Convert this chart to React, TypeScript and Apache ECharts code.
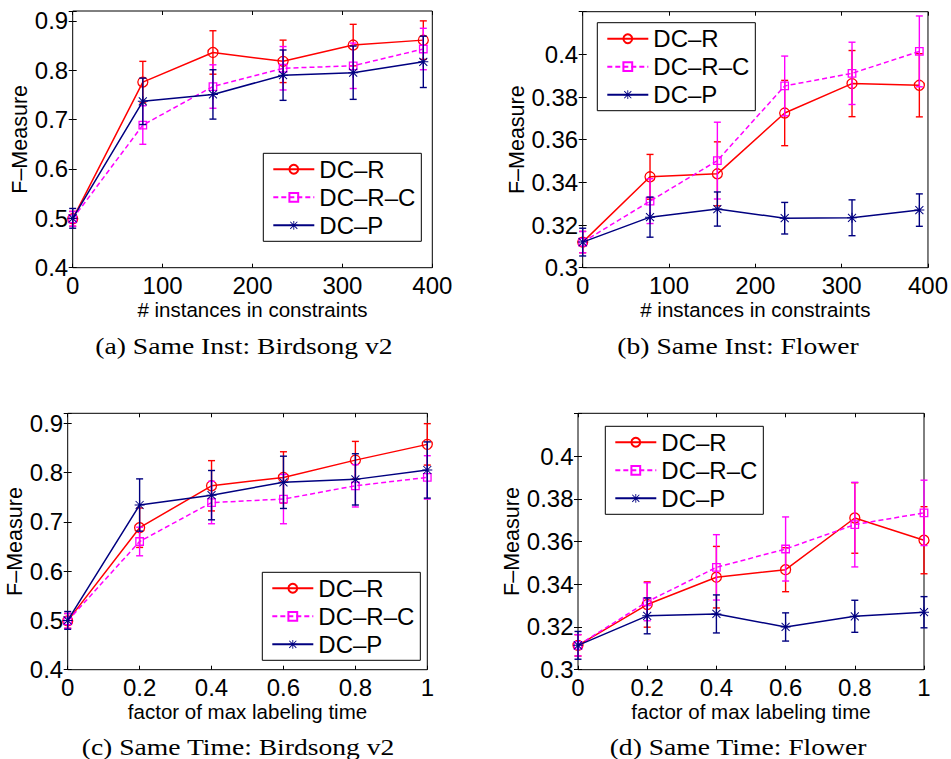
import React, { useEffect, useRef } from 'react';
import * as echarts from 'echarts';

// ---------- data ----------
const instX = [0, 78, 156, 234, 312, 390];
const timeX = [0, 0.2, 0.4, 0.6, 0.8, 1];
const seriesNames = ['DC–R', 'DC–R–C', 'DC–P'];

// (a) Same Inst: Birdsong v2
const aR = [0.499, 0.776, 0.836, 0.818, 0.851, 0.861];
const aRErr = [0.015, 0.042, 0.044, 0.043, 0.042, 0.039];
const aRC = [0.499, 0.689, 0.767, 0.804, 0.809, 0.843];
const aRCErr = [0.015, 0.039, 0.044, 0.044, 0.046, 0.042];
const aP = [0.5, 0.737, 0.751, 0.79, 0.795, 0.817];
const aPErr = [0.02, 0.047, 0.05, 0.051, 0.054, 0.052];

// (b) Same Inst: Flower
const bR = [0.312, 0.3426, 0.344, 0.3725, 0.3863, 0.3855];
const bRErr = [0.005, 0.0105, 0.015, 0.0153, 0.0155, 0.0148];
const bRC = [0.312, 0.3312, 0.3502, 0.3852, 0.3911, 0.4014];
const bRCErr = [0.005, 0.0105, 0.018, 0.014, 0.0146, 0.0166];
const bP = [0.312, 0.3237, 0.3275, 0.3232, 0.3234, 0.327];
const bPErr = [0.0065, 0.0094, 0.008, 0.0074, 0.0084, 0.0076];

// (c) Same Time: Birdsong v2
const cR = [0.499, 0.688, 0.773, 0.79, 0.825, 0.857];
const cRErr = [0.015, 0.04, 0.051, 0.052, 0.038, 0.042];
const cRC = [0.499, 0.66, 0.739, 0.746, 0.773, 0.79];
const cRCErr = [0.015, 0.029, 0.043, 0.05, 0.043, 0.044];
const cP = [0.5, 0.734, 0.754, 0.78, 0.786, 0.805];
const cPErr = [0.018, 0.053, 0.05, 0.053, 0.052, 0.057];

// (d) Same Time: Flower
const dR = [0.3114, 0.3305, 0.3433, 0.3468, 0.371, 0.3606];
const dRErr = [0.005, 0.0106, 0.0144, 0.0103, 0.0165, 0.0157];
const dRC = [0.3114, 0.3318, 0.3479, 0.3565, 0.3679, 0.3734];
const dRCErr = [0.005, 0.0089, 0.0153, 0.015, 0.0198, 0.0153];
const dP = [0.3114, 0.3252, 0.3261, 0.32, 0.325, 0.3269];
const dPErr = [0.0065, 0.0084, 0.0089, 0.0066, 0.0075, 0.0073];

const xTicksInst = [0, 100, 200, 300, 400];
const xTicksTime = [0, 0.2, 0.4, 0.6, 0.8, 1];
const yTicksBird = [0.4, 0.5, 0.6, 0.7, 0.8, 0.9];
const yTicksFlower = [0.3, 0.32, 0.34, 0.36, 0.38, 0.4];

const captions = [
  '(a) Same Inst: Birdsong v2',
  '(b) Same Inst: Flower',
  '(c) Same Time: Birdsong v2',
  '(d) Same Time: Flower',
];
const xTitleInst = '# instances in constraints';
const xTitleTime = 'factor of max labeling time';
const yTitle = 'F–Measure';

// ---------- styling ----------
const SANS = 'Liberation Sans, Arial, Helvetica, sans-serif';
const SERIF = 'Liberation Serif, Times New Roman, serif';
const COLORS = ['#ff0000', '#ff00ff', '#000080'];
const STAR =
  'path://M9 0H11V20H9Z M0 9H20V11H0Z M1.3 2.7L2.7 1.3L18.7 17.3L17.3 18.7Z M17.3 1.3L18.7 2.7L2.7 18.7L1.3 17.3Z';

type Panel = {
  grid: { left: number; top: number; width: number; height: number };
  x: number[];
  means: number[][];
  errs: number[][];
  xMin: number; xMax: number; xInt: number; xTicks: number[];
  yMin: number; yMax: number; yInt: number; yTicks: number[];
  xTitle: string;
  legend: { left: number; top: number };
  caption: { x: number; y: number };
};

const panels: Panel[] = [
  {
    grid: { left: 72.7, top: 11, width: 359.6, height: 256.7 },
    x: instX, means: [aR, aRC, aP], errs: [aRErr, aRCErr, aPErr],
    xMin: 0, xMax: 400, xInt: 100, xTicks: xTicksInst,
    yMin: 0.4, yMax: 0.92, yInt: 0.1, yTicks: yTicksBird,
    xTitle: xTitleInst, legend: { left: 263.3, top: 153.3 }, caption: { x: 244, y: 346 },
  },
  {
    grid: { left: 582.7, top: 11.7, width: 346.6, height: 256 },
    x: instX, means: [bR, bRC, bP], errs: [bRErr, bRCErr, bPErr],
    xMin: 0, xMax: 400, xInt: 100, xTicks: xTicksInst,
    yMin: 0.3, yMax: 0.42, yInt: 0.02, yTicks: yTicksFlower,
    xTitle: xTitleInst, legend: { left: 597.3, top: 22.7 }, caption: { x: 738, y: 346 },
  },
  {
    grid: { left: 67.7, top: 413.3, width: 359.6, height: 256.4 },
    x: timeX, means: [cR, cRC, cP], errs: [cRErr, cRCErr, cPErr],
    xMin: 0, xMax: 1, xInt: 0.2, xTicks: xTicksTime,
    yMin: 0.4, yMax: 0.92, yInt: 0.1, yTicks: yTicksBird,
    xTitle: xTitleTime, legend: { left: 262.3, top: 572.3 }, caption: { x: 238, y: 747 },
  },
  {
    grid: { left: 578, top: 413.3, width: 346, height: 256.4 },
    x: timeX, means: [dR, dRC, dP], errs: [dRErr, dRCErr, dPErr],
    xMin: 0, xMax: 1, xInt: 0.2, xTicks: xTicksTime,
    yMin: 0.3, yMax: 0.42, yInt: 0.02, yTicks: yTicksFlower,
    xTitle: xTitleTime, legend: { left: 605.3, top: 426.3 }, caption: { x: 738, y: 747 },
  },
];

const tickFormatter = (ticks: number[]) => (v: number) => {
  const r = Math.round(v * 1000) / 1000;
  return ticks.some((t) => Math.abs(t - r) < 1e-9) ? String(r) : '';
};

function buildOption() {
  const grid: any[] = [];
  const xAxis: any[] = [];
  const yAxis: any[] = [];
  const series: any[] = [];
  const legend: any[] = [];
  const graphic: any[] = [];

  panels.forEach((p, gi) => {
    grid.push({
      ...p.grid,
      show: true,
      borderColor: '#000',
      borderWidth: 1,
      backgroundColor: '#fff',
      containLabel: false,
    });
    const tick = { show: true, inside: true, length: 4, lineStyle: { color: '#000', width: 1 } };
    const xi = xAxis.length;
    xAxis.push({
      type: 'value', gridIndex: gi, position: 'bottom',
      min: p.xMin, max: p.xMax, interval: p.xInt,
      axisLine: { show: false }, splitLine: { show: false },
      axisTick: tick,
      axisLabel: {
        show: true, margin: 6, color: '#000', fontSize: 24, fontFamily: SANS,
        formatter: tickFormatter(p.xTicks),
      },
      name: p.xTitle, nameLocation: 'middle', nameGap: 28,
      nameTextStyle: { color: '#000', fontSize: 20.5, fontFamily: SANS },
    });
    xAxis.push({
      type: 'value', gridIndex: gi, position: 'top',
      min: p.xMin, max: p.xMax, interval: p.xInt,
      axisLine: { show: false }, splitLine: { show: false },
      axisTick: tick, axisLabel: { show: false },
    });
    const yi = yAxis.length;
    yAxis.push({
      type: 'value', gridIndex: gi, position: 'left',
      min: p.yMin, max: p.yMax, interval: p.yInt,
      axisLine: { show: false }, splitLine: { show: false },
      axisTick: tick,
      axisLabel: {
        show: true, margin: 4.5, color: '#000', fontSize: 24, fontFamily: SANS,
        formatter: tickFormatter(p.yTicks),
      },
      name: yTitle, nameLocation: 'middle', nameRotate: 90,
      nameGap: gi % 2 === 0 ? 34 : 46,
      nameTextStyle: { color: '#000', fontSize: 21.5, fontFamily: SANS },
    });
    yAxis.push({
      type: 'value', gridIndex: gi, position: 'right',
      min: p.yMin, max: p.yMax, interval: p.yInt,
      axisLine: { show: false }, splitLine: { show: false },
      axisTick: tick, axisLabel: { show: false },
    });

    seriesNames.forEach((name, si) => {
      const color = COLORS[si];
      const mean = p.means[si];
      const err = p.errs[si];
      const z = 3 + si * 2;
      series.push({
        type: 'custom',
        name: name + ' err',
        xAxisIndex: xi, yAxisIndex: yi,
        z,
        silent: true,
        encode: { x: 0, y: [1, 2] },
        data: p.x.map((xv, i) => [xv, mean[i] - err[i], mean[i] + err[i]]),
        renderItem: (params: any, api: any) => {
          const xv = api.value(0);
          const lo = api.coord([xv, api.value(1)]);
          const hi = api.coord([xv, api.value(2)]);
          const w = 3.5;
          const style = { stroke: color, lineWidth: 1.4, fill: 'none' };
          return {
            type: 'group',
            children: [
              { type: 'line', shape: { x1: lo[0], y1: lo[1], x2: hi[0], y2: hi[1] }, style },
              { type: 'line', shape: { x1: lo[0] - w, y1: lo[1], x2: lo[0] + w, y2: lo[1] }, style },
              { type: 'line', shape: { x1: hi[0] - w, y1: hi[1], x2: hi[0] + w, y2: hi[1] }, style },
            ],
          };
        },
      });
      const symbol = si === 0 ? 'circle' : si === 1 ? 'rect' : STAR;
      const symbolSize = si === 0 ? 10 : si === 1 ? 7.5 : 10;
      const itemStyle =
        si === 2
          ? { color, borderWidth: 0 }
          : { color: 'transparent', borderColor: color, borderWidth: 1.3 };
      series.push({
        type: 'line',
        name,
        xAxisIndex: xi, yAxisIndex: yi,
        z: z + 1,
        data: p.x.map((xv, i) => [xv, mean[i]]),
        symbol, symbolSize,
        showAllSymbol: true,
        itemStyle,
        lineStyle: { color, width: 1.5, type: si === 1 ? [5, 3] : 'solid' },
        emphasis: { disabled: true },
        silent: true,
      });
    });

    legend.push({
      show: true,
      data: seriesNames,
      orient: 'vertical',
      left: p.legend.left, top: p.legend.top,
      itemWidth: 41, itemHeight: 11, itemGap: 4,
      padding: [4, 6, 4, 9],
      borderColor: '#000', borderWidth: 1, backgroundColor: '#fff',
      selectedMode: false,
      textStyle: { color: '#000', fontSize: 24, fontFamily: SANS, lineHeight: 24 },
      z: 20,
    });

    graphic.push({
      type: 'text',
      x: p.caption.x, y: p.caption.y,
      scaleX: 1.2,
      style: {
        x: 0, y: 0,
        text: captions[gi],
        fill: '#000',
        font: `23px ${SERIF}`,
        textAlign: 'center',
        textVerticalAlign: 'middle',
      },
    });
  });

  return {
    animation: false,
    backgroundColor: '#fff',
    grid, xAxis, yAxis, series, legend, graphic,
  };
}

export default function App() {
  const ref = useRef<HTMLDivElement>(null);
  useEffect(() => {
    if (!ref.current) return;
    const chart = echarts.init(ref.current, null, { renderer: 'svg' });
    chart.setOption(buildOption() as any);
    return () => chart.dispose();
  }, []);
  return (
    <div
      ref={ref}
      style={{ position: 'absolute', left: 0, top: 0, width: 951, height: 759, background: '#fff' }}
    />
  );
}
